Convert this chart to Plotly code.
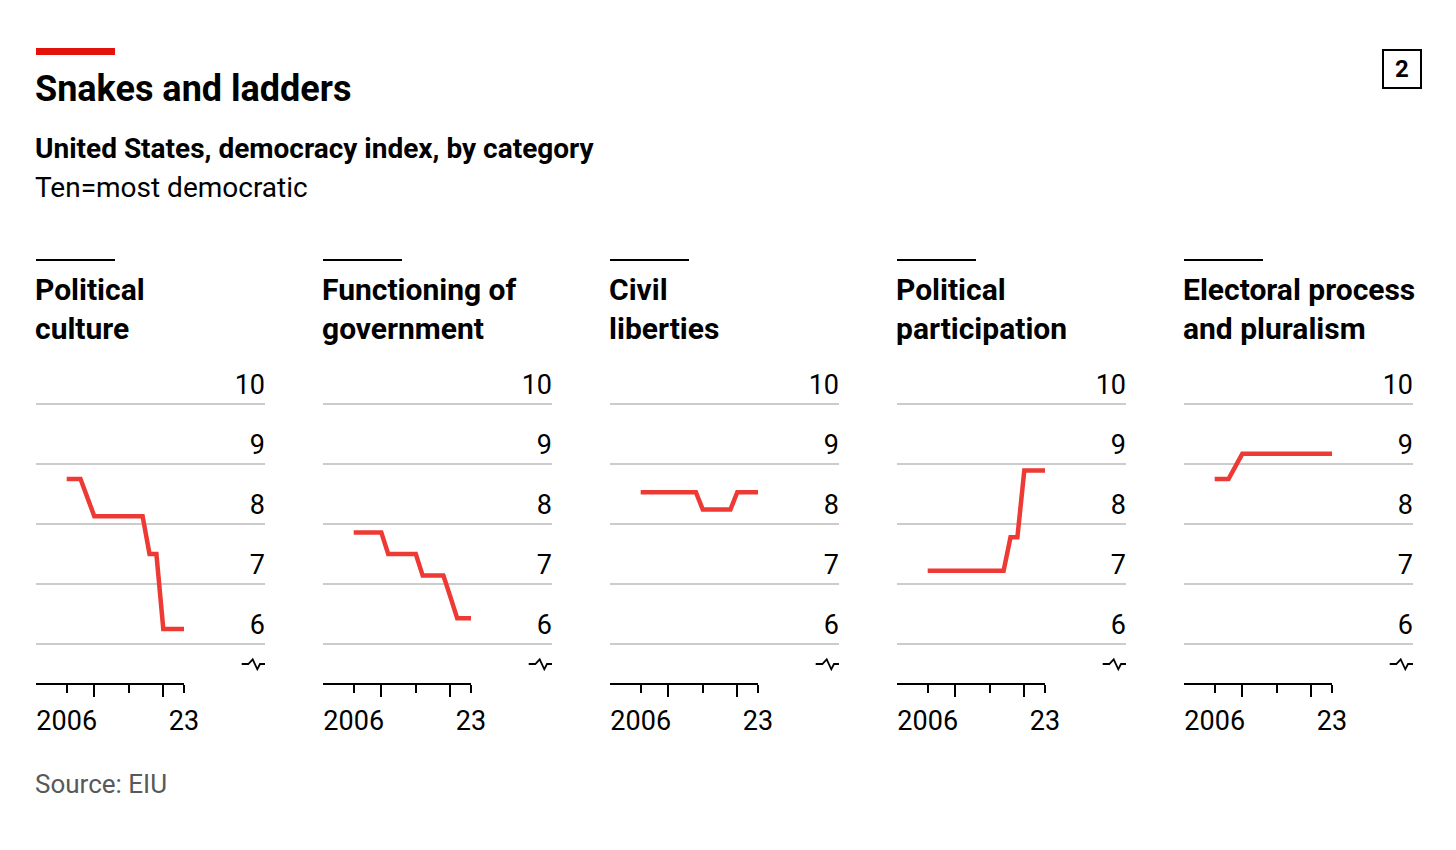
import plotly.graph_objects as go

# ---------------- data ----------------
years = [2006, 2008] + list(range(2010, 2024))

panel_titles = [
    "Political<br>culture",
    "Functioning of<br>government",
    "Civil<br>liberties",
    "Political<br>participation",
    "Electoral process<br>and pluralism",
]

political_culture = [8.75, 8.75, 8.13, 8.13, 8.13, 8.13, 8.13, 8.13, 8.13, 8.13,
                     7.50, 7.50, 6.25, 6.25, 6.25, 6.25]
functioning_of_government = [7.86, 7.86, 7.86, 7.50, 7.50, 7.50, 7.50, 7.50, 7.14, 7.14,
                             7.14, 7.14, 6.79, 6.43, 6.43, 6.43]
civil_liberties = [8.53, 8.53, 8.53, 8.53, 8.53, 8.53, 8.53, 8.24, 8.24, 8.24,
                   8.24, 8.24, 8.53, 8.53, 8.53, 8.53]
political_participation = [7.22, 7.22, 7.22, 7.22, 7.22, 7.22, 7.22, 7.22, 7.22, 7.22,
                           7.78, 7.78, 8.89, 8.89, 8.89, 8.89]
electoral_process = [8.75, 8.75, 9.17, 9.17, 9.17, 9.17, 9.17, 9.17, 9.17, 9.17,
                     9.17, 9.17, 9.17, 9.17, 9.17, 9.17]

series = [political_culture, functioning_of_government, civil_liberties,
          political_participation, electoral_process]

y_tickvals = [6, 7, 8, 9, 10]
x_label_vals = [2006, 2015, 2023]
x_label_text = ["2006", "", "23"]
x_minor_vals = [2010, 2020]

# ---------------- layout helpers ----------------
OFF = 8  # page body margin
W, H = 1456 - 2 * OFF, 850 - 2 * OFF
RED = "#E3120B"
LINE_RED = "#EE3A34"
FONT = "Roboto"


def px(x):
    return (x - OFF) / W


def py(y):
    return 1 - (y - OFF) / H


panel_left0 = 36
panel_w = 229
panel_step = 287
plot_top, plot_bottom = 350, 684
x_range = [2001.55, 2034.74]
y_range = [10 - (plot_bottom - 404) / 60, 10 + (404 - plot_top) / 60]

fig = go.Figure()
shapes = []
annotations = []

for k, vals in enumerate(series):
    idx = "" if k == 0 else str(k + 1)
    left = panel_left0 + panel_step * k
    right = left + panel_w

    fig.add_trace(go.Scatter(
        x=years, y=vals, mode="lines",
        line=dict(color=LINE_RED, width=4.5),
        xaxis="x" + idx, yaxis="y" + idx,
        showlegend=False, hoverinfo="x+y",
    ))

    fig.layout["xaxis" + idx] = dict(
        domain=[px(left), px(right)],
        range=x_range, anchor="y" + idx,
        showgrid=False, zeroline=False, showline=False,
        tickmode="array", tickvals=x_label_vals, ticktext=x_label_text,
        ticks="outside", ticklen=8, tickwidth=2, tickcolor="black",
        ticklabelstandoff=5,
        minor=dict(tickmode="array", tickvals=x_minor_vals, ticks="outside",
                   ticklen=12, tickwidth=2, tickcolor="black", showgrid=False),
        tickfont=dict(family=FONT, size=27, color="black"),
        fixedrange=True,
    )
    fig.layout["yaxis" + idx] = dict(
        domain=[py(plot_bottom), py(plot_top)],
        range=y_range, anchor="x" + idx, side="right",
        tickmode="array", tickvals=y_tickvals,
        ticklabelposition="inside", ticklabelshift=-19, ticklabelstandoff=-3,
        showgrid=True, gridcolor="#cccccc", gridwidth=1.5,
        zeroline=False, showline=False, ticks="",
        tickfont=dict(family=FONT, size=27, color="black"),
        fixedrange=True,
    )

    # x axis baseline (ends at last year)
    shapes.append(dict(type="line", xref="x" + idx, yref="y" + idx + " domain",
                       x0=x_range[0], x1=years[-1], y0=0, y1=0,
                       line=dict(color="black", width=2)))

    # axis-break symbol
    sx = left + 205.7
    pts = [(sx, 664), (sx + 6.6, 664), (sx + 11, 659.3), (sx + 15.6, 669.3),
           (sx + 18.3, 664), (sx + 23.3, 664)]
    path = "M " + " L ".join(f"{px(a):.5f},{py(b):.5f}" for a, b in pts)
    shapes.append(dict(type="path", xref="paper", yref="paper", path=path,
                       line=dict(color="black", width=1.8)))

    # short rule above panel title
    shapes.append(dict(type="line", xref="paper", yref="paper",
                       x0=px(left), x1=px(left + 79), y0=py(260), y1=py(260),
                       line=dict(color="black", width=2)))

    annotations.append(dict(text="<b>" + panel_titles[k] + "</b>", xref="paper", yref="paper",
                            x=px(left - 3), y=py(309), xanchor="left", yanchor="middle",
                            align="left", showarrow=False,
                            font=dict(family=FONT, size=30, color="black")))

# red bar at top
shapes.append(dict(type="rect", xref="paper", yref="paper",
                   x0=px(36), x1=px(115), y0=py(55), y1=py(48),
                   fillcolor=RED, line=dict(width=0)))

# box with "2"
shapes.append(dict(type="rect", xref="paper", yref="paper",
                   x0=px(1383), x1=px(1421), y0=py(88), y1=py(50),
                   line=dict(color="black", width=2), fillcolor="rgba(0,0,0,0)"))
annotations.append(dict(text="<b>2</b>", xref="paper", yref="paper",
                        x=px(1402), y=py(69), xanchor="center", yanchor="middle",
                        showarrow=False, font=dict(family=FONT, size=24, color="black")))

annotations += [
    dict(text="<b>Snakes and ladders</b>", xref="paper", yref="paper",
         x=px(33), y=py(89), xanchor="left", yanchor="middle", showarrow=False,
         font=dict(family=FONT, size=36, color="black")),
    dict(text="<b>United States, democracy index, by category</b>", xref="paper", yref="paper",
         x=px(33), y=py(148), xanchor="left", yanchor="middle", showarrow=False,
         font=dict(family=FONT, size=28, color="black")),
    dict(text="Ten=most democratic", xref="paper", yref="paper",
         x=px(33), y=py(187), xanchor="left", yanchor="middle", showarrow=False,
         font=dict(family=FONT, size=28, color="black")),
    dict(text="Source: EIU", xref="paper", yref="paper",
         x=px(33), y=py(784), xanchor="left", yanchor="middle", showarrow=False,
         font=dict(family=FONT, size=26, color="#595959")),
]

fig.update_layout(
    width=W, height=H,
    margin=dict(l=0, r=0, t=0, b=0),
    paper_bgcolor="white", plot_bgcolor="white",
    shapes=shapes, annotations=annotations,
    showlegend=False,
    font=dict(family=FONT),
)

fig.write_html("out.html", config={"displayModeBar": False})
